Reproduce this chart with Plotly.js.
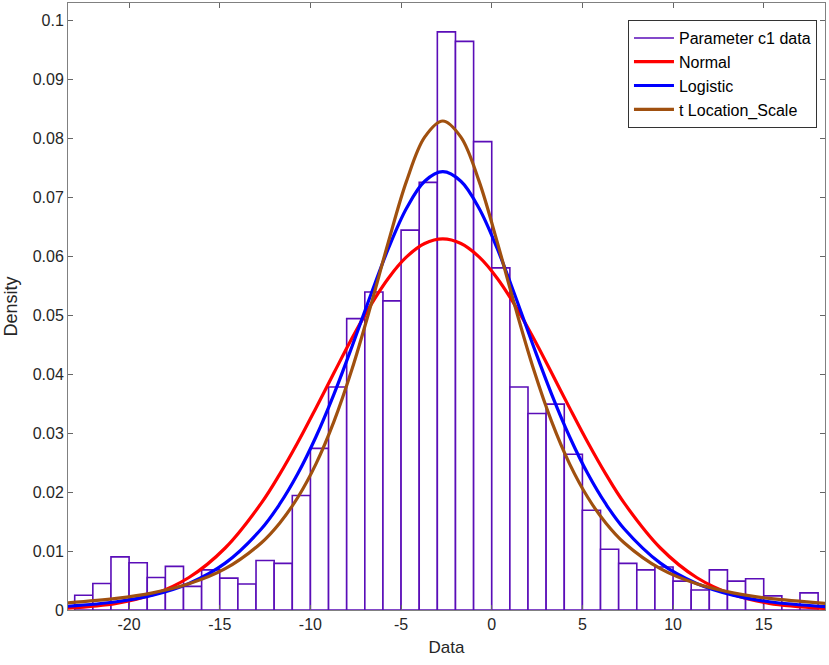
<!DOCTYPE html>
<html>
<head>
<meta charset="utf-8">
<script src="https://cdn.plot.ly/plotly-3.0.1.min.js"></script>
<style>html,body{margin:0;padding:0;background:#fff;}#chart{width:829px;height:665px;}</style>
</head>
<body>
<div id="chart"></div>
<script>
// Histogram bins (width 1), left edges -23 .. 17
var binCenters = [-22.5,-21.5,-20.5,-19.5,-18.5,-17.5,-16.5,-15.5,-14.5,-13.5,-12.5,-11.5,-10.5,
  -9.5,-8.5,-7.5,-6.5,-5.5,-4.5,-3.5,-2.5,-1.5,-0.5,
  0.5,1.5,2.5,3.5,4.5,5.5,6.5,7.5,8.5,9.5,10.5,11.5,12.5,13.5,14.5,15.5,16.5,17.5];
var binDensity = [0.0025,0.0045,0.009,0.008,0.0055,0.0074,0.004,0.0068,0.0054,0.0044,0.0084,0.0079,0.0194,
  0.0274,0.0378,0.0494,0.0539,0.0524,0.0644,0.0725,0.098,0.0964,0.0794,
  0.058,0.0378,0.0333,0.0349,0.0264,0.0169,0.0103,0.0079,0.0068,0.0073,0.0049,0.0034,0.0068,0.0049,0.0053,0.0024,0,0.0029];

// Fitted curve samples
var curveX = [-23.4,-20.7,-18.7,-16.7,-14.7,-12.7,-11.7,-10.7,-9.7,-8.7,-7.7,-6.7,-5.7,-4.7,-3.7,-2.7,
  -1.7,-0.7,0.3,1.3,2.3,3.3,4.3,5.3,6.3,7.3,9.3,11.3,13.3,15.3,18.4];
var normalY = [0.000307,0.001122,0.002612,0.005507,0.01051,0.01815,0.02299,0.02839,0.03422,0.04021,0.04610,0.05156,0.05625,0.05985,0.06212,0.0629,
  0.06212,0.05985,0.05625,0.05156,0.04610,0.04021,0.03422,0.02839,0.02299,0.01815,0.01051,0.005507,0.002612,0.001122,0.000249];
var logisticY = [0.000631,0.001399,0.002515,0.004494,0.007943,0.01377,0.01793,0.02309,0.02933,0.03661,0.04472,0.05319,0.06129,0.06810,0.07268,0.0743,
  0.07268,0.06810,0.06129,0.05319,0.04472,0.03661,0.02933,0.02309,0.01793,0.01377,0.007943,0.004494,0.002515,0.001399,0.000560];
var tlsY = [0.001214,0.001966,0.002907,0.004436,0.007000,0.01141,0.01472,0.01907,0.02473,0.03197,0.04089,0.05130,0.06240,0.07270,0.08016,0.0829,
  0.08016,0.07270,0.06240,0.05130,0.04089,0.03197,0.02473,0.01907,0.01472,0.01141,0.007000,0.004436,0.002907,0.001966,0.001134];

var xTicks = [-20,-15,-10,-5,0,5,10,15];
var yTicks = [0,0.01,0.02,0.03,0.04,0.05,0.06,0.07,0.08,0.09,0.1];
var yTickText = ['0','0.01','0.02','0.03','0.04','0.05','0.06','0.07','0.08','0.09','0.1'];

var purple = '#5A0DB8';
var traces = [
  {type:'bar', x:binCenters, y:binDensity, width:1, showlegend:false, hoverinfo:'skip',
   marker:{color:'rgba(255,255,255,1)', line:{color:purple, width:1.6}}},
  {type:'scatter', mode:'lines', x:[null], y:[null], name:'Parameter c1 data', line:{color:purple, width:1.5}},
  {type:'scatter', mode:'lines', x:curveX, y:normalY, name:'Normal', line:{color:'#FF0000', width:3.2, shape:'spline', smoothing:1}},
  {type:'scatter', mode:'lines', x:curveX, y:logisticY, name:'Logistic', line:{color:'#0000FF', width:3.2, shape:'spline', smoothing:1}},
  {type:'scatter', mode:'lines', x:curveX, y:tlsY, name:'t Location_Scale', line:{color:'#A0500F', width:3.2, shape:'spline', smoothing:1}}
];

var ff = 'Liberation Sans, Arial, sans-serif';
var axisFont = {family:ff, size:16, color:'#262626'};
var layout = {
  width:829, height:665,
  margin:{l:68, r:4, t:3, b:55},
  paper_bgcolor:'#fff', plot_bgcolor:'#fff',
  bargap:0,
  font:{family:ff, color:'#262626'},
  xaxis:{range:[-23.37,18.38], tickvals:xTicks, ticktext:xTicks.map(String), ticks:'inside', ticklen:5, tickcolor:'#666',
    showline:true, linecolor:'#808080', linewidth:1, mirror:'ticks', showgrid:false, zeroline:false,
    tickfont:axisFont, title:{text:'Data', font:{family:ff, size:17, color:'#262626'}, standoff:8}},
  yaxis:{range:[0,0.1029], tickvals:yTicks, ticktext:yTickText, ticks:'inside', ticklen:5, tickcolor:'#666',
    showline:true, linecolor:'#808080', linewidth:1, mirror:'ticks', showgrid:false, zeroline:false,
    tickfont:axisFont, title:{text:'Density', font:{family:ff, size:18, color:'#262626'}, standoff:10}},
  legend:{x:0.9894, y:0.972, xanchor:'right', yanchor:'top', bgcolor:'#fff', bordercolor:'#333', borderwidth:1,
    font:{family:ff, size:16, color:'#000'}, tracegroupgap:0, itemwidth:40}
};

Plotly.newPlot('chart', traces, layout, {displayModeBar:false, staticPlot:true});
</script>
</body>
</html>
